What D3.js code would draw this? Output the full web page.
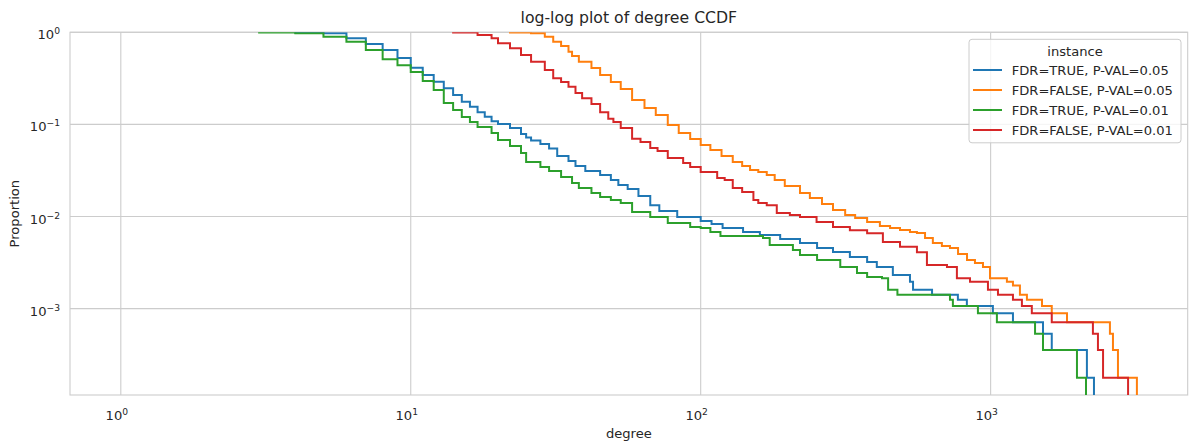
<!DOCTYPE html>
<html><head><meta charset="utf-8">
<script src="https://cdn.jsdelivr.net/npm/d3@7"></script>
<style>
body{margin:0;background:#fff}
text{font-family:"DejaVu Sans",sans-serif;fill:#262626}
</style></head>
<body><svg id="chart" width="1189" height="445"></svg>
<script>
// ---- data ----
const seriesNames = ["FDR=TRUE, P-VAL=0.05","FDR=FALSE, P-VAL=0.05","FDR=TRUE, P-VAL=0.01","FDR=FALSE, P-VAL=0.01"];
const seriesColors = ["#1f77b4","#ff7f0e","#2ca02c","#d62728"];
const legendTitle = "instance";
const titleText = "log-log plot of degree CCDF";
const xLabelText = "degree";
const yLabelText = "Proportion";
const xTickValues = [1, 10, 100, 1000];
const xTickExps = ["0","1","2","3"];
const yTickValues = [0.001, 0.01, 0.1, 1];
const yTickExps = ["\u22123","\u22122","\u22121","0"];
const minDegree = 1;

// degree at which the CCDF steps, and proportion of nodes with a larger degree
const blueDeg = [4,5,6,7,8,9,10,11,12,13,14,15,16,17,18,19,20,22,24,25,26,28,30,32,35,37,40,45,49,52,56,61,67,72,83,100,109,119,140,160,188,220,252,286,327,375,405,460,527,540,628,771,828,1018,1194,1516,1625,2148,2272];
const blueProp = [0.99,0.975,0.861,0.746,0.642,0.526,0.413,0.344,0.291,0.247,0.2087,0.1765,0.1557,0.1355,0.1213,0.1085,0.1011,0.0914,0.0787,0.0721,0.0669,0.0613,0.0548,0.0454,0.0401,0.0354,0.0312,0.0283,0.0249,0.022,0.0199,0.0167,0.0133,0.0115,0.0099,0.00895,0.0083,0.00751,0.0068,0.00631,0.00571,0.00516,0.00456,0.00412,0.00364,0.00321,0.00283,0.00232,0.00196,0.0016,0.00142,0.00125,0.00107,0.00089,0.000712,0.000534,0.000356,0.000178,0];

const orangeDeg = [22,26,29,31,33,35,36,38,42,45,49,53,58,64,70,77,84,92,100,108,118,129,139,148,158,169,180,195,220,238,262,286,315,341,375,415,450,487,527,557,594,632,679,724,772,829,883,941,995,1138,1194,1262,1334,1504,1625,1834,2579,2642,2749,3195];
const orangeProp = [0.998,0.975,0.896,0.791,0.71,0.616,0.553,0.48,0.41,0.344,0.289,0.2425,0.184,0.151,0.1266,0.0986,0.0807,0.0695,0.0598,0.0528,0.0454,0.0391,0.0354,0.032,0.0305,0.0283,0.0249,0.0215,0.018,0.0159,0.0137,0.0118,0.0104,0.00965,0.00873,0.0079,0.00751,0.00714,0.0068,0.00663,0.00585,0.00516,0.00479,0.00456,0.00392,0.00338,0.00313,0.00283,0.00214,0.00196,0.00178,0.00142,0.00125,0.00107,0.00089,0.000712,0.000534,0.000356,0.000178,0];

const greenDeg = [3,4,5,6,7,8,9,10,11,12,13,14,15,16,17,19,20,22,24,25,28,30,33,36,38,42,45,49,53,58,67,77,92,100,108,117,164,173,208,220,252,303,346,375,422,443,477,724,741,904,1051,1423,1516,1985,2133];
const greenProp = [0.998,0.975,0.896,0.791,0.642,0.509,0.44,0.371,0.296,0.2365,0.171,0.1434,0.1204,0.1063,0.0938,0.0807,0.0678,0.0583,0.049,0.0391,0.0345,0.0312,0.0269,0.0231,0.0204,0.018,0.0163,0.0151,0.014,0.0112,0.0099,0.0085,0.0077,0.00751,0.0068,0.00615,0.00585,0.00491,0.00434,0.00383,0.00338,0.00283,0.00244,0.00221,0.00214,0.0016,0.00142,0.00125,0.00107,0.00089,0.000712,0.000534,0.000356,0.000178,0];

const redDeg = [14,17,19,20,22,24,26,29,31,33,35,37,39,42,45,48,50,53,58,62,67,71,77,87,92,100,114,121,129,139,152,158,169,183,203,220,251,286,327,375,425,487,557,603,707,765,849,979,1060,1194,1282,1387,1625,2253,2345,2442,2979];
const redProp = [0.998,0.935,0.861,0.76,0.67,0.567,0.48,0.39,0.317,0.2887,0.257,0.2194,0.192,0.1666,0.1355,0.115,0.1062,0.0914,0.07,0.0645,0.0555,0.0515,0.0432,0.0381,0.0345,0.0305,0.0262,0.0249,0.0204,0.0185,0.0151,0.014,0.0133,0.0109,0.0104,0.0099,0.0087,0.0077,0.0071,0.0066,0.0053,0.0047,0.0041,0.00298,0.00283,0.00214,0.00196,0.0016,0.00142,0.00125,0.00107,0.00089,0.000712,0.000534,0.000356,0.000178,0];

const seriesDeg = [blueDeg, orangeDeg, greenDeg, redDeg];
const seriesProp = [blueProp, orangeProp, greenProp, redProp];

// ---- layout ----
const W = 1189, H = 445;
const plot = {left: 70, right: 1187.7, top: 32.3, bottom: 395};
const fsMed = 13.1, fsLarge = 15.7;
const gridColor = "#cccccc";

const svg = d3.select("#chart");
svg.append("rect").attr("width", W).attr("height", H).attr("fill", "#fff");

// scales: log axes with 5% margins in log space (top sticky at 1)
const allDeg = seriesDeg.flat();
const maxDeg = d3.max(allDeg);
const lx0 = Math.log10(minDegree), lx1 = Math.log10(maxDeg);
const padX = 0.05 * (lx1 - lx0);
const x = d3.scaleLog().domain([10 ** (lx0 - padX), 10 ** (lx1 + padX)]).range([plot.left, plot.right]);

const minProp = d3.min(seriesProp.flat().filter(v => v > 0));
const ly0 = Math.log10(minProp), ly1 = 0;
const padY = 0.05 * (ly1 - ly0);
const y = d3.scaleLog().domain([10 ** (ly0 - padY), 1]).range([plot.bottom, plot.top]);

// grid
const g = svg.append("g");
g.selectAll("line.xg").data(xTickValues).join("line")
  .attr("x1", d => x(d)).attr("x2", d => x(d))
  .attr("y1", plot.top).attr("y2", plot.bottom)
  .attr("stroke", gridColor).attr("stroke-width", 1.1);
g.selectAll("line.yg").data(yTickValues).join("line")
  .attr("x1", plot.left).attr("x2", plot.right)
  .attr("y1", d => y(d)).attr("y2", d => y(d))
  .attr("stroke", gridColor).attr("stroke-width", 1.1);

// spines
svg.append("rect").attr("x", plot.left).attr("y", plot.top)
  .attr("width", plot.right - plot.left).attr("height", plot.bottom - plot.top)
  .attr("fill", "none").attr("stroke", gridColor).attr("stroke-width", 1.1);

// clip
svg.append("clipPath").attr("id", "clip").append("rect")
  .attr("x", plot.left).attr("y", plot.top)
  .attr("width", plot.right - plot.left).attr("height", plot.bottom - plot.top);

const line = d3.line()
  .x(d => x(d[0]))
  .y(d => d[1] > 0 ? y(d[1]) : plot.bottom + 20)
  .curve(d3.curveStepAfter);

const lines = svg.append("g").attr("clip-path", "url(#clip)");
seriesDeg.forEach((degs, i) => {
  const props = seriesProp[i];
  const pts = [[degs[0], 1]].concat(degs.map((d, j) => [d, props[j]]));
  lines.append("path").datum(pts)
    .attr("d", line)
    .attr("fill", "none")
    .attr("stroke", seriesColors[i])
    .attr("stroke-width", 2)
    .attr("stroke-linejoin", "miter")
    .attr("stroke-linecap", "square");
});

// x tick labels (10^n)
const xt = svg.append("g");
xTickValues.forEach((v, i) => {
  const t = xt.append("text").attr("x", x(v) - 4).attr("y", plot.bottom + 25)
    .attr("text-anchor", "middle").attr("font-size", fsMed);
  t.append("tspan").text("10");
  t.append("tspan").attr("dy", -5).attr("font-size", fsMed * 0.7).text(xTickExps[i]);
});
// y tick labels
yTickValues.forEach((v, i) => {
  const t = xt.append("text").attr("x", plot.left - 10).attr("y", y(v) + 7)
    .attr("text-anchor", "end").attr("font-size", fsMed);
  t.append("tspan").text("10");
  t.append("tspan").attr("dy", -5).attr("font-size", fsMed * 0.7).text(yTickExps[i]);
});

// axis labels & title
svg.append("text").attr("x", (plot.left + plot.right) / 2).attr("y", 438)
  .attr("text-anchor", "middle").attr("font-size", fsMed).text(xLabelText);
svg.append("text").attr("transform", `translate(19,${(plot.top + plot.bottom) / 2}) rotate(-90)`)
  .attr("text-anchor", "middle").attr("font-size", fsMed).text(yLabelText);
svg.append("text").attr("x", (plot.left + plot.right) / 2).attr("y", 22.5)
  .attr("text-anchor", "middle").attr("font-size", fsLarge).text(titleText);

// legend
const lg = svg.append("g");
lg.append("rect").attr("x", 969).attr("y", 39.3).attr("width", 212).attr("height", 103.5)
  .attr("rx", 3).attr("fill", "#fff").attr("fill-opacity", 0.8)
  .attr("stroke", gridColor).attr("stroke-width", 1);
lg.append("text").attr("x", 1075).attr("y", 55.5).attr("text-anchor", "middle")
  .attr("font-size", fsMed).text(legendTitle);
seriesNames.forEach((name, i) => {
  const yy = 70 + i * 20;
  lg.append("line").attr("x1", 973).attr("x2", 1002).attr("y1", yy).attr("y2", yy)
    .attr("stroke", seriesColors[i]).attr("stroke-width", 2);
  lg.append("text").attr("x", 1011.7).attr("y", yy + 4.7).attr("font-size", fsMed).text(name);
});
</script></body></html>
